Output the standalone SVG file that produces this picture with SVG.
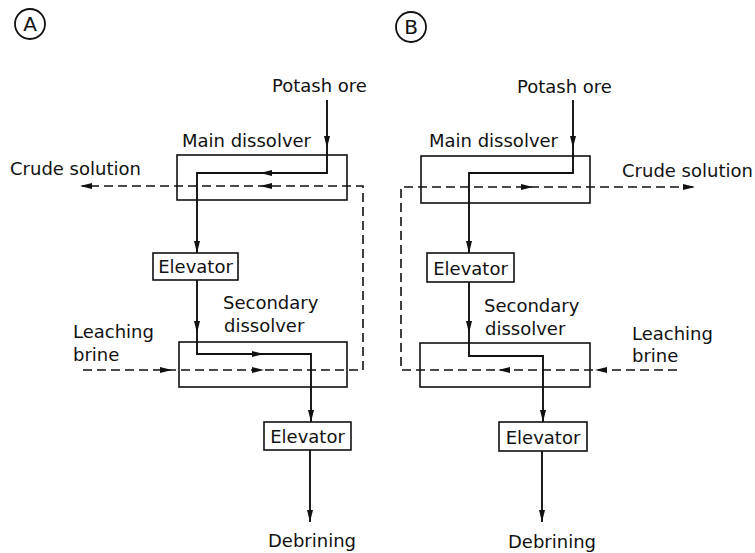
<svg xmlns="http://www.w3.org/2000/svg" xmlns:xlink="http://www.w3.org/1999/xlink" width="755" height="553" viewBox="0 0 755 553">
<style>
text{font-family:"DejaVu Sans","Liberation Sans",sans-serif;font-size:18px;fill:#111}
.box{fill:none;stroke:#111;stroke-width:1.6}
.solid{fill:none;stroke:#111;stroke-width:1.9}
.dash{fill:none;stroke:#111;stroke-width:1.6;stroke-dasharray:9 5}
.ah{fill:#111}
.mid{text-anchor:middle}
.tag{fill:none;stroke:#111;stroke-width:1.8}
.tagt{font-size:20px;text-anchor:middle}
</style>
<defs>
<path id="arr" d="M0,0 L-12,-3 L-12,3 Z"/>
</defs>
<rect width="755" height="553" fill="#fff"/>

<g id="labelA">
<circle class="tag" cx="30" cy="24" r="15"/>
<text x="30" y="31" class="tagt">A</text>
</g>
<g id="labelB">
<circle class="tag" cx="411" cy="27" r="15"/>
<text x="411" y="34" class="tagt">B</text>
</g>

<!-- Panel A nodes -->
<g id="a-potash"><text x="272" y="92">Potash ore</text></g>
<g id="a-main"><rect class="box" x="177" y="155" width="170" height="45"/><text x="182" y="147">Main dissolver</text></g>
<g id="a-crude"><text x="10" y="175">Crude solution</text></g>
<g id="a-elev1"><rect class="box" x="153" y="253" width="85" height="27"/><text x="195.5" y="273" class="mid">Elevator</text></g>
<g id="a-sec"><rect class="box" x="179" y="342" width="168" height="45"/><text x="223" y="309">Secondary</text><text x="224" y="332">dissolver</text></g>
<g id="a-leach"><text x="73" y="338">Leaching</text><text x="73" y="361">brine</text></g>
<g id="a-elev2"><rect class="box" x="264" y="422" width="87" height="28"/><text x="307.5" y="443" class="mid">Elevator</text></g>
<g id="a-debr"><text x="268" y="547">Debrining</text></g>

<!-- Panel B nodes -->
<g id="b-potash"><text x="517" y="93">Potash ore</text></g>
<g id="b-main"><rect class="box" x="421" y="156" width="169" height="47"/><text x="429" y="147">Main dissolver</text></g>
<g id="b-crude"><text x="622" y="177">Crude solution</text></g>
<g id="b-elev1"><rect class="box" x="427" y="253" width="87" height="29"/><text x="470.5" y="275" class="mid">Elevator</text></g>
<g id="b-sec"><rect class="box" x="420" y="343" width="170" height="44"/><text x="484" y="312">Secondary</text><text x="485" y="335">dissolver</text></g>
<g id="b-leach"><text x="632" y="340">Leaching</text><text x="632" y="362">brine</text></g>
<g id="b-elev2"><rect class="box" x="499" y="422" width="88" height="29"/><text x="543" y="444" class="mid">Elevator</text></g>
<g id="b-debr"><text x="508" y="548">Debrining</text></g>

<g id="connectors">
<!-- Panel A solid -->
<path class="solid" d="M327,100 V173 H197 V253"/>
<path class="solid" d="M197,280 V342"/>
<path class="solid" d="M197,342 V354 H311 V422"/>
<path class="solid" d="M310,450 V522"/>
<!-- Panel A dashed -->
<path class="dash" d="M363,370 V186 H82"/>
<path class="dash" d="M83,370 H363"/>
<!-- Panel A arrowheads -->
<use xlink:href="#arr" class="ah" transform="translate(327,148) rotate(90)"/>
<use xlink:href="#arr" class="ah" transform="translate(260,173) rotate(180)"/>
<use xlink:href="#arr" class="ah" transform="translate(260,186) rotate(180)"/>
<use xlink:href="#arr" class="ah" transform="translate(80,186) rotate(180)"/>
<use xlink:href="#arr" class="ah" transform="translate(197,253) rotate(90)"/>
<use xlink:href="#arr" class="ah" transform="translate(197,333) rotate(90)"/>
<use xlink:href="#arr" class="ah" transform="translate(264,354)"/>
<use xlink:href="#arr" class="ah" transform="translate(172,370)"/>
<use xlink:href="#arr" class="ah" transform="translate(264,370)"/>
<use xlink:href="#arr" class="ah" transform="translate(311,422) rotate(90)"/>
<use xlink:href="#arr" class="ah" transform="translate(310,522) rotate(90)"/>

<!-- Panel B solid -->
<path class="solid" d="M573,100 V173 H469 V253"/>
<path class="solid" d="M469,282 V343"/>
<path class="solid" d="M469,343 V356 H543 V422"/>
<path class="solid" d="M542,451 V522"/>
<!-- Panel B dashed -->
<path class="dash" d="M693,187 H401 V370 H682"/>
<!-- Panel B arrowheads -->
<use xlink:href="#arr" class="ah" transform="translate(573,148) rotate(90)"/>
<use xlink:href="#arr" class="ah" transform="translate(533,187)"/>
<use xlink:href="#arr" class="ah" transform="translate(695,187)"/>
<use xlink:href="#arr" class="ah" transform="translate(469,253) rotate(90)"/>
<use xlink:href="#arr" class="ah" transform="translate(469,333) rotate(90)"/>
<use xlink:href="#arr" class="ah" transform="translate(595,370) rotate(180)"/>
<use xlink:href="#arr" class="ah" transform="translate(498,370) rotate(180)"/>
<use xlink:href="#arr" class="ah" transform="translate(543,422) rotate(90)"/>
<use xlink:href="#arr" class="ah" transform="translate(542,522) rotate(90)"/>
</g>
</svg>
